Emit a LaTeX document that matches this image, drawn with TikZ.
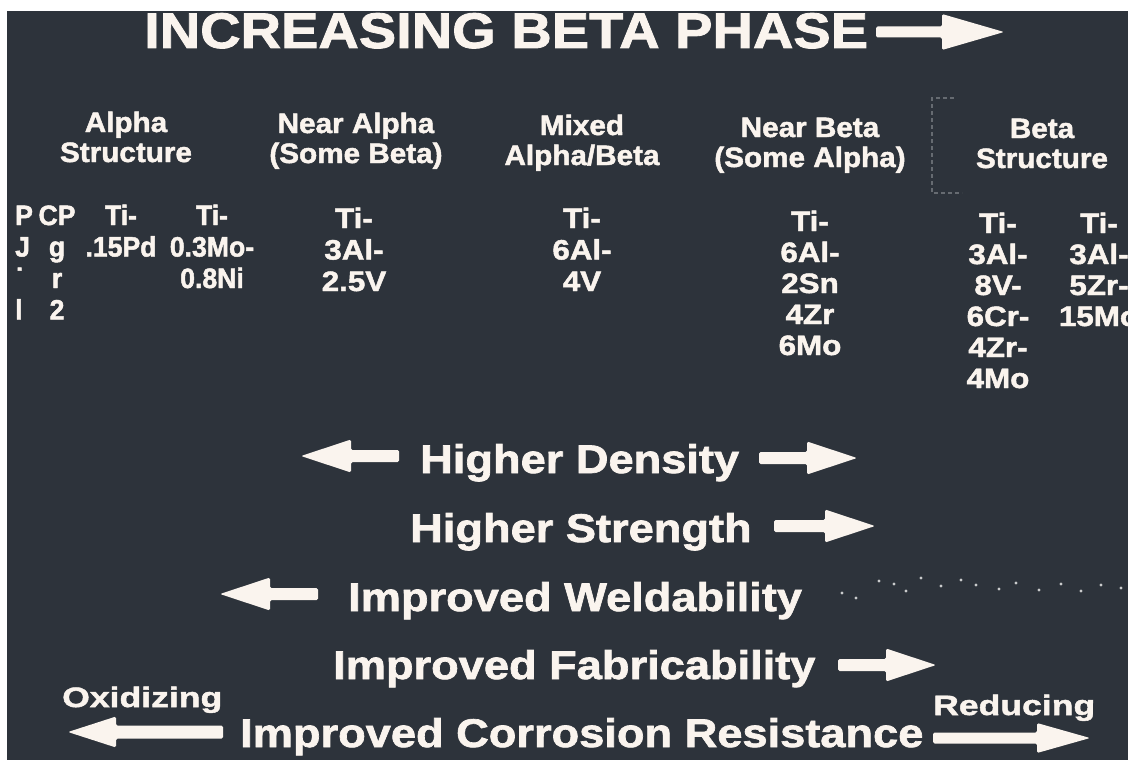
\documentclass[tikz,border=0pt]{standalone}
\usepackage{fontspec}
\setmainfont{Liberation Sans}
% one family per horizontal stretch of the lettering
\newfontfamily\fTitle[FakeStretch=1.12,FakeBold=1.7]{Liberation Sans}
\newfontfamily\fMain[FakeStretch=1.13,FakeBold=1.7]{Liberation Sans}
\newfontfamily\fHead[FakeStretch=1.06,FakeBold=1.7]{Liberation Sans}
\newfontfamily\fWide[FakeStretch=1.27,FakeBold=1.7]{Liberation Sans}
\newfontfamily\fAlloy[FakeStretch=1.12,FakeBold=1.7]{Liberation Sans}
\newfontfamily\fAlloyN[FakeStretch=0.95,FakeBold=1.7]{Liberation Sans}

\definecolor{panel}{HTML}{2D333B}
\definecolor{ink}{HTML}{FAF4EE}
\definecolor{speck}{HTML}{8C9196}
\definecolor{dotgrey}{HTML}{C9CBCC}

\tikzset{
  txt/.style={text=ink, inner sep=0pt, anchor=base},
  titletxt/.style={txt, anchor=base west, font=\fTitle\bfseries\fontsize{50}{50}\selectfont},
  headtxt/.style={txt, font=\fHead\bfseries\fontsize{28}{28}\selectfont},
  alloytxt/.style={txt, font=\fAlloy\bfseries\fontsize{28}{28}\selectfont},
  alloynarrow/.style={txt, font=\fAlloyN\bfseries\fontsize{28}{28}\selectfont},
  proptxt/.style={txt, anchor=base west, font=\fMain\bfseries\fontsize{40}{40}\selectfont},
  sidetxt/.style={txt, anchor=base west, font=\fWide\bfseries\fontsize{28}{28}\selectfont},
  bracket/.style={draw=speck, line width=1.3pt, dash pattern=on 4pt off 3pt, opacity=0.6},
}

% horizontal block arrow: name, tail x, tip x, y, shaft half width, head half width, head length
\newcommand\blockarrow[7]{%
  \pgfmathsetmacro\bahx{#3+((#2<#3)?(-#7):(#7))}%
  \coordinate (#1 tail) at (#2,#4);
  \coordinate (#1 tip) at (#3,#4);
  \fill[ink, rounded corners=1.5pt] (#2,#4+#5) -- (\bahx,#4+#5) -- (\bahx,#4+#6)
     -- (#1 tip) -- (\bahx,#4-#6) -- (\bahx,#4-#5) -- (#2,#4-#5) -- cycle;
}

% a column of lines: name, style, x, first baseline, line pitch, lines
\newcommand\stackcol[6]{%
  \foreach \txtline [count=\k] in {#6}
    \node[#2] (#1\k) at (#3,{-#4-#5*(\k-1)}) {\txtline};
}

\begin{document}
\begin{tikzpicture}[x=1pt,y=1pt]
  \useasboundingbox (0,0) rectangle (1131,-760);
  \fill[white] (0,0) rectangle (1131,-760);
  \fill[panel] (7,-11) rectangle (1128,-760);

  \begin{scope}
    \clip (7,-11) rectangle (1128,-760);

    % heading
    \node[titletxt] (title) at (144,-48) {INCREASING BETA PHASE};
    \blockarrow{ta}{876}{1004}{-32}{5.5}{18}{62}

    % structure classes
    \stackcol{ha}{headtxt}{126}{132}{30}{Alpha,Structure}
    \stackcol{hn}{headtxt}{356}{133}{30}{Near Alpha,(Some Beta)}
    \stackcol{hm}{headtxt}{582}{135}{30}{Mixed,Alpha/Beta}
    \stackcol{hb}{headtxt}{810}{137}{30}{Near Beta,(Some Alpha)}
    \stackcol{hs}{headtxt}{1042}{138}{30}{Beta,Structure}
    \draw[bracket] (954,-98) -- (932,-98) -- (932,-193) -- (962,-193);

    % alloys
    \stackcol{ap}{alloynarrow, anchor=base west}{15}{225}{31.5}{P,J,˙,l}
    \stackcol{acp}{alloynarrow}{57}{225}{31.5}{CP,g,r,2}
    \stackcol{apd}{alloynarrow}{121}{225}{31.5}{Ti-,.15Pd}
    \stackcol{ani}{alloynarrow}{212}{225}{31.5}{Ti-,0.3Mo-,0.8Ni}
    \stackcol{ana}{alloytxt}{354}{228}{31.5}{Ti-,3Al-,2.5V}
    \stackcol{amx}{alloytxt}{582}{228}{31.5}{Ti-,6Al-,4V}
    \stackcol{anb}{alloytxt}{810}{231}{31}{Ti-,6Al-,2Sn,4Zr,6Mo}
    \stackcol{abA}{alloytxt}{998}{233}{31}{Ti-,3Al-,8V-,6Cr-,4Zr-,4Mo}
    \stackcol{abB}{alloytxt}{1099}{233}{31}{Ti-,3Al-,5Zr-,15Mo}

    % property trends
    \blockarrow{dl}{399}{301}{-456}{6}{16.5}{50}
    \node[proptxt] (dens) at (420,-473) {Higher Density};
    \blockarrow{dr}{759}{857}{-458}{6}{16.5}{50}

    \node[proptxt] (stren) at (410,-542) {Higher Strength};
    \blockarrow{sr}{774}{875}{-526}{6}{16.5}{50}

    \blockarrow{wl}{318}{220}{-594}{6}{16.5}{50}
    \node[proptxt] (weld) at (348,-611) {Improved Weldability};
    \foreach \p in {(842,-593),(856,-598),(879,-581),(894,-584),(906,-591),(921,-578),
                    (941,-586),(961,-580),(976,-585),(999,-589),(1016,-583),(1039,-590),
                    (1061,-584),(1081,-591),(1101,-585),(1121,-588)}
      \fill[dotgrey] \p circle (1.6);

    \node[proptxt] (fab) at (333,-679) {Improved Fabricability};
    \blockarrow{fr}{838}{936}{-665}{6}{16.5}{50}

    \node[sidetxt] (oxid) at (62,-707) {Oxidizing};
    \blockarrow{ol}{223}{68}{-732}{6.5}{15.5}{48}
    \node[proptxt] (corr) at (240,-747) {Improved Corrosion Resistance};
    \node[sidetxt] (red) at (933,-715) {Reducing};
    \blockarrow{rr}{933}{1090}{-738}{5.5}{15}{53}
  \end{scope}
\end{tikzpicture}
\end{document}
